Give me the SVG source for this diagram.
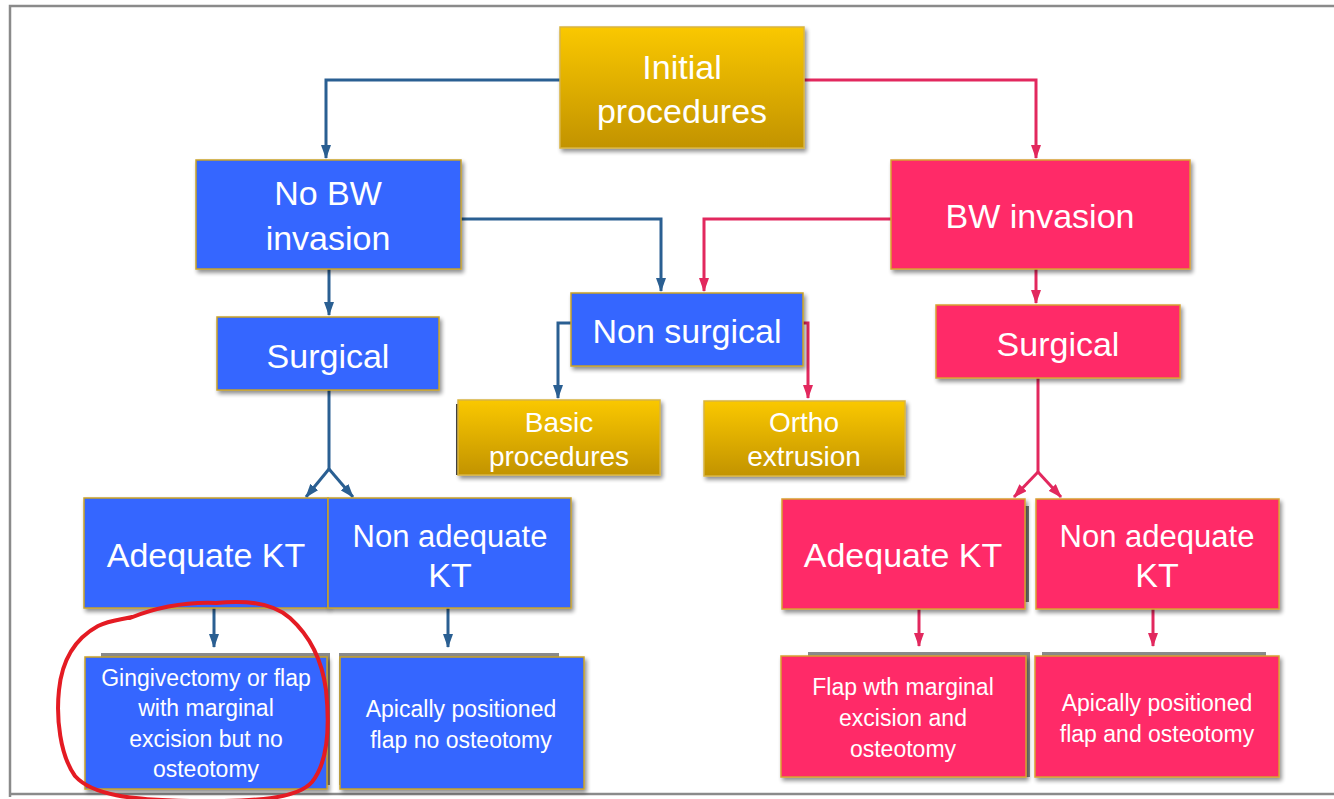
<svg xmlns="http://www.w3.org/2000/svg" width="1334" height="799" viewBox="0 0 1334 799">
<style>
.blue{fill:#3566FF;stroke:#C9A227;stroke-width:1.5}
.pink{fill:#FF2968;stroke:#D9A030;stroke-width:1.5}
.gold{fill:url(#gold);stroke:#D8B440;stroke-width:1.5}
.sh{fill:#8a8a8a}
.t{font-family:"Liberation Sans",Arial,sans-serif;fill:#fff;text-anchor:middle}
.big{font-size:34px}
.na{font-size:31px}
.mid{font-size:28px}
.sm{font-size:23px}
.cb{fill:none;stroke:#2A5F92;stroke-width:3}
.cp{fill:none;stroke:#E2285E;stroke-width:3}
</style>
<defs>
<linearGradient id="gold" x1="0" y1="0" x2="0" y2="1">
<stop offset="0" stop-color="#FAC800"/>
<stop offset="1" stop-color="#C29300"/>
</linearGradient>
<filter id="ds" x="-10%" y="-10%" width="130%" height="130%">
<feGaussianBlur in="SourceAlpha" stdDeviation="2"/>
<feOffset dx="2" dy="3" result="b"/>
<feComponentTransfer><feFuncA type="linear" slope="0.45"/></feComponentTransfer>
<feMerge><feMergeNode/><feMergeNode in="SourceGraphic"/></feMerge>
</filter>
<marker id="ab" viewBox="0 0 14 10" markerWidth="14" markerHeight="10" refX="13" refY="5" orient="auto" markerUnits="userSpaceOnUse">
<path d="M0,0 L14,5 L0,10 z" fill="#2A5F92"/>
</marker>
<marker id="ap" viewBox="0 0 14 10" markerWidth="14" markerHeight="10" refX="13" refY="5" orient="auto" markerUnits="userSpaceOnUse">
<path d="M0,0 L14,5 L0,10 z" fill="#E2285E"/>
</marker>
</defs>
<rect x="0" y="0" width="1334" height="799" fill="#fff"/>
<g id="frame" fill="none" stroke="#8a8a8a" stroke-width="2.5">
<path d="M10,797 V6 H1334"/>
<path d="M10,794 H1334"/>
</g>

<g id="connectors">
<path class="cb" d="M560,80 H326 V158" marker-end="url(#ab)"/>
<path class="cb" d="M461,219 H661 V291" marker-end="url(#ab)"/>
<path class="cb" d="M329,269 V315" marker-end="url(#ab)"/>
<path class="cb" d="M329,390 V469"/>
<path class="cb" d="M329,469 L306,497" marker-end="url(#ab)"/>
<path class="cb" d="M329,469 L353,497" marker-end="url(#ab)"/>
<path class="cb" d="M571,323 H558 V398" marker-end="url(#ab)"/>
<path class="cb" d="M214,608 V647" marker-end="url(#ab)"/>
<path class="cb" d="M448,608 V647" marker-end="url(#ab)"/>
<path class="cp" d="M804,80 H1036 V158" marker-end="url(#ap)"/>
<path class="cp" d="M891,219 H704 V291" marker-end="url(#ap)"/>
<path class="cp" d="M1036,269 V303" marker-end="url(#ap)"/>
<path class="cp" d="M1038,378 V472"/>
<path class="cp" d="M1038,472 L1014,497" marker-end="url(#ap)"/>
<path class="cp" d="M1038,472 L1061,497" marker-end="url(#ap)"/>
<path class="cp" d="M803,323 H808 V398" marker-end="url(#ap)"/>
<path class="cp" d="M919,609 V646" marker-end="url(#ap)"/>
<path class="cp" d="M1153,609 V646" marker-end="url(#ap)"/>
</g>

<g id="initial">
<rect class="gold" x="560" y="27" width="244" height="121" filter="url(#ds)"/>
<text class="t big" x="682" y="79">Initial</text>
<text class="t big" x="682" y="123">procedures</text>
</g>
<g id="no-bw">
<rect class="blue" x="196" y="160" width="265" height="109" filter="url(#ds)"/>
<text class="t big" x="328" y="205">No BW</text>
<text class="t big" x="328" y="250">invasion</text>
</g>
<g id="bw">
<rect class="pink" x="891" y="160" width="299" height="109" filter="url(#ds)"/>
<text class="t big" x="1040" y="228">BW invasion</text>
</g>
<g id="surgical-left">
<rect class="blue" x="217" y="317" width="222" height="73" filter="url(#ds)"/>
<text class="t big" x="328" y="368">Surgical</text>
</g>
<g id="non-surgical">
<rect class="blue" x="571" y="293" width="232" height="73" filter="url(#ds)"/>
<text class="t big" x="687" y="343">Non surgical</text>
</g>
<g id="surgical-right">
<rect class="pink" x="936" y="305" width="244" height="73" filter="url(#ds)"/>
<text class="t big" x="1058" y="356">Surgical</text>
</g>
<g id="basic">
<rect x="456" y="404" width="5" height="71" fill="#444"/>
<rect class="gold" x="458" y="400" width="202" height="75" filter="url(#ds)"/>
<text class="t mid" x="559" y="432">Basic</text>
<text class="t mid" x="559" y="466">procedures</text>
</g>
<g id="ortho">
<rect class="gold" x="704" y="401" width="201" height="75" filter="url(#ds)"/>
<text class="t mid" x="804" y="432">Ortho</text>
<text class="t mid" x="804" y="466">extrusion</text>
</g>
<g id="adequate-left">
<rect class="blue" x="84" y="498" width="244" height="110" filter="url(#ds)"/>
<text class="t big" x="206" y="567">Adequate KT</text>
</g>
<g id="nonadequate-left">
<rect class="blue" x="328" y="498" width="243" height="110" filter="url(#ds)"/>
<text class="t na" x="450" y="547">Non adequate</text>
<text class="t big" x="450" y="587">KT</text>
</g>
<g id="adequate-right">
<rect x="1022" y="506" width="7" height="96" fill="#777"/>
<rect class="pink" x="782" y="499" width="243" height="110" filter="url(#ds)"/>
<text class="t big" x="903" y="567">Adequate KT</text>
</g>
<g id="nonadequate-right">
<rect class="pink" x="1036" y="499" width="243" height="110" filter="url(#ds)"/>
<text class="t na" x="1157" y="547">Non adequate</text>
<text class="t big" x="1157" y="587">KT</text>
</g>
<g id="gingivectomy">
<rect class="sh" x="101" y="653" width="229" height="132"/>
<rect class="blue" x="85" y="657" width="242" height="132" filter="url(#ds)"/>
<text class="t sm" x="206" y="686">Gingivectomy or flap</text>
<text class="t sm" x="206" y="716">with marginal</text>
<text class="t sm" x="206" y="747">excision but no</text>
<text class="t sm" x="206" y="777">osteotomy</text>
</g>
<g id="apical-left">
<rect class="sh" x="339" y="653" width="220" height="132"/>
<rect class="blue" x="340" y="657" width="244" height="132" filter="url(#ds)"/>
<text class="t sm" x="461" y="717">Apically positioned</text>
<text class="t sm" x="461" y="748">flap no osteotomy</text>
</g>
<g id="flap-right">
<rect class="sh" x="808" y="652" width="222" height="125"/>
<rect class="pink" x="781" y="656" width="245" height="121" filter="url(#ds)"/>
<text class="t sm" x="903" y="695">Flap wth marginal</text>
<text class="t sm" x="903" y="726">excision and</text>
<text class="t sm" x="903" y="757">osteotomy</text>
</g>
<g id="apical-right">
<rect class="sh" x="1042" y="652" width="224" height="125"/>
<rect class="pink" x="1035" y="656" width="244" height="121" filter="url(#ds)"/>
<text class="t sm" x="1157" y="711">Apically positioned</text>
<text class="t sm" x="1157" y="742">flap and osteotomy</text>
</g>

<path id="red-circle" d="M130,618 C160,606 190,602 216,603 C245,600 272,602 290,618 C310,636 322,660 326,690 C330,728 328,762 312,782 C298,798 260,802 190,801 C130,800 92,795 75,776 C60,755 56,718 59,690 C62,660 76,638 98,626 C110,620 120,620 132,617" fill="none" stroke="#E41B23" stroke-width="4" stroke-linecap="round"/>
</svg>
